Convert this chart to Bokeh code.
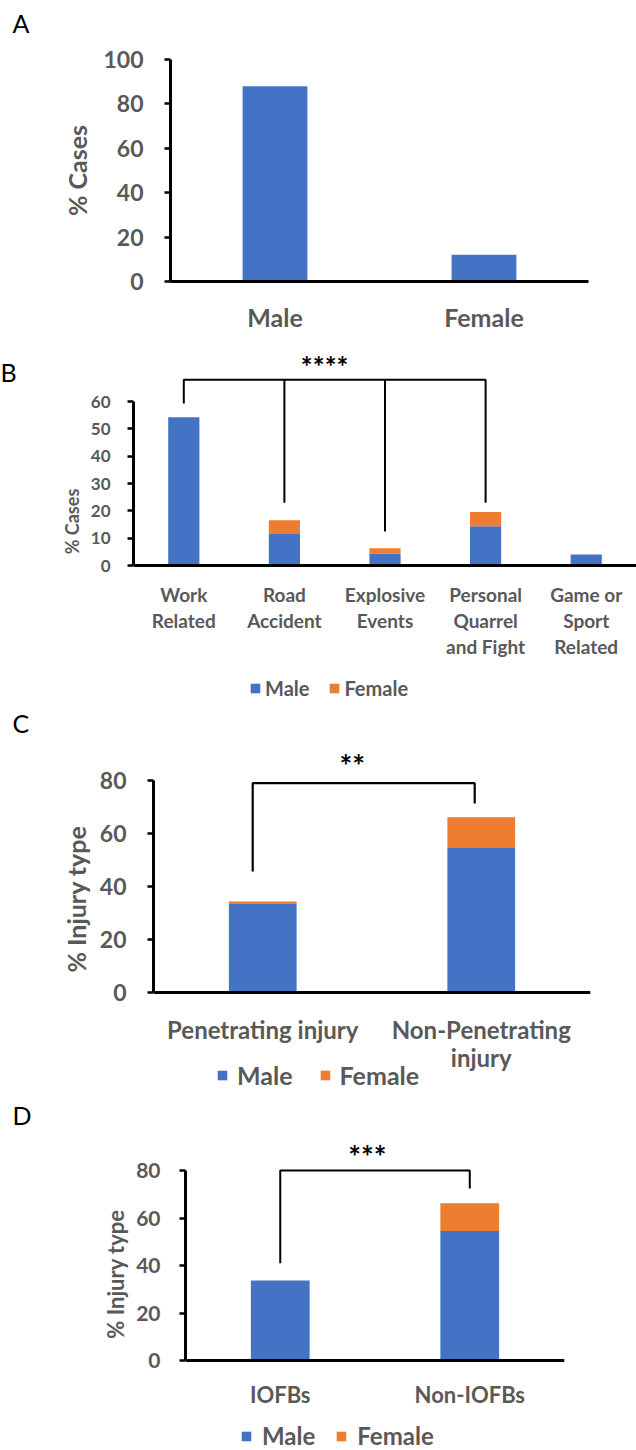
from bokeh.plotting import figure
from bokeh.layouts import column, row
from bokeh.models import (ColumnDataSource, FactorRange, Range1d, Label, Legend,
                          LegendItem, FixedTicker)
from bokeh.core.properties import value
from bokeh.embed import file_html
from bokeh.resources import INLINE

# ---- data -------------------------------------------------------------
gender_labels = ["Male", "Female"]
gender_pct = [88.0, 12.0]

cause_labels = ["Work Related", "Road Accident", "Explosive Events",
                "Personal Quarrel and Fight", "Game or Sport Related"]
cause_label_lines = [["Work", "Related"], ["Road", "Accident"], ["Explosive", "Events"],
                     ["Personal", "Quarrel", "and Fight"], ["Game or", "Sport", "Related"]]
cause_male = [54.2, 11.5, 4.4, 14.4, 4.0]
cause_female = [0.0, 5.1, 1.9, 5.2, 0.0]

injury_labels = ["Penetrating injury", "Non-Penetrating injury"]
injury_label_lines = [["Penetrating injury"], ["Non-Penetrating", "injury"]]
injury_male = [33.4, 54.8]
injury_female = [0.9, 11.3]

iofb_labels = ["IOFBs", "Non-IOFBs"]
iofb_label_lines = [["IOFBs"], ["Non-IOFBs"]]
iofb_male = [33.7, 54.5]
iofb_female = [0.0, 11.7]

series_names = ["Male", "Female"]
panel_letters = ["A", "B", "C", "D"]

# ---- style ------------------------------------------------------------
MALE_C = "#4472C4"
FEMALE_C = "#ED7D31"
GREY = "#595959"
FONT = "Lato"
BAR_W = 0.31
LETTER_W = 40          # strip on the left holding the panel letters
PAGE_H = 1450
PANEL_W = 636 - LETTER_W


def clean(p):
    p.xgrid.visible = False
    p.ygrid.visible = False
    p.outline_line_color = None
    p.background_fill_color = "white"
    p.border_fill_color = "white"


def y_axis(p, yticks, tick_size, tick_standoff, ylabel, ylabel_size, ylabel_standoff):
    ya = p.yaxis[0]
    ya.ticker = FixedTicker(ticks=yticks)
    ya.bounds = (yticks[0], yticks[-1])
    ya.axis_line_color = "black"
    ya.axis_line_width = 3
    ya.major_tick_line_color = "black"
    ya.major_tick_line_width = 2.5
    ya.major_tick_out = 6
    ya.major_tick_in = 0
    ya.minor_tick_out = 0
    ya.minor_tick_in = 0
    ya.major_label_text_font = FONT
    ya.major_label_text_font_style = "bold"
    ya.major_label_text_color = GREY
    ya.major_label_text_font_size = f"{tick_size}px"
    ya.major_label_standoff = tick_standoff
    ya.axis_label = ylabel
    ya.axis_label_text_font = FONT
    ya.axis_label_text_font_style = "bold"
    ya.axis_label_text_color = GREY
    ya.axis_label_text_font_size = f"{ylabel_size}px"
    ya.axis_label_standoff = ylabel_standoff


def x_axis(p):
    xa = p.xaxis[0]
    xa.axis_line_color = "black"
    xa.axis_line_width = 3
    xa.major_tick_out = 0
    xa.major_tick_in = 0
    xa.minor_tick_out = 0
    xa.minor_tick_in = 0
    return xa


def xpos(cats, name, offset=0.0):
    return cats.index(name) + 0.5 + offset


class Geo:
    """Pixel layout of one panel: frame edges and where 0 / top tick sit."""

    def __init__(self, left, right, top, bottom, height, zero_px, top_px, top_val):
        self.left, self.right, self.top, self.bottom = left, right, top, bottom
        self.height = height
        self.zero_px = zero_px
        self.k = (zero_px - top_px) / top_val

    def val(self, px):
        return (self.zero_px - px) / self.k

    def y_range(self):
        return Range1d(self.val(self.height - self.bottom), self.val(self.top))


def stacked_panel(cats, male, female, geo, ylabel, yticks, tick_size, tick_standoff,
                  ylabel_size, ylabel_standoff):
    fw = PANEL_W - geo.left - geo.right
    fh = geo.height - geo.top - geo.bottom
    p = figure(frame_width=fw, frame_height=fh,
               x_range=FactorRange(factors=cats, range_padding=0),
               y_range=geo.y_range(), output_backend="svg", toolbar_location=None,
               min_border_left=geo.left, min_border_right=geo.right,
               min_border_top=geo.top, min_border_bottom=geo.bottom)
    clean(p)
    src = ColumnDataSource(dict(cat=cats, Male=male, Female=female))
    rs = p.vbar_stack(series_names, x="cat", width=BAR_W, source=src,
                      fill_color=[MALE_C, FEMALE_C], line_color=None)
    y_axis(p, yticks, tick_size, tick_standoff, ylabel, ylabel_size, ylabel_standoff)
    xa = x_axis(p)
    xa.fixed_location = 0
    xa.major_label_text_color = None
    return p, rs


def category_text(p, geo, cats, lines, first_px, gap, size):
    xs, ys, ts = [], [], []
    for c, ls in zip(cats, lines):
        for i, t in enumerate(ls):
            xs.append(xpos(cats, c))
            ys.append(geo.val(first_px + i * gap))
            ts.append(t)
    p.text(x=xs, y=ys, text=ts, text_font=value(FONT), text_font_style="bold",
           text_font_size=f"{size}px", text_color=GREY,
           text_align="center", text_baseline="middle")


def add_legend(p, renderers, x, size, glyph, standoff, spacing):
    items = [LegendItem(label=n, renderers=[r]) for n, r in zip(series_names, renderers)]
    lg = Legend(items=items, location=(x, 0), orientation="horizontal",
                padding=0, margin=0, spacing=spacing, label_standoff=standoff,
                glyph_width=glyph, glyph_height=glyph,
                border_line_color=None, background_fill_alpha=0,
                label_text_font=FONT, label_text_font_style="bold",
                label_text_color=GREY, label_text_font_size=f"{size}px")
    p.add_layout(lg)


def stars(p, text, x, y, size):
    p.add_layout(Label(x=x, y=y, text=text, text_font=FONT, text_font_style="bold",
                       text_font_size=f"{size}px", text_color="black",
                       text_align="center", text_baseline="middle"))


# ---- panel letters strip ----------------------------------------------
letters = figure(width=LETTER_W, height=PAGE_H, x_range=Range1d(0, LETTER_W),
                 y_range=Range1d(PAGE_H, 0), x_axis_location=None, y_axis_location=None,
                 min_border=0, output_backend="svg", toolbar_location=None)
clean(letters)
letters.text(x=[12, 0, 12, 12], y=[22, 371, 722, 1114], text=panel_letters,
             text_font=value(FONT), text_font_size="25px", text_color="black",
             text_baseline="alphabetic")

# ---- A: cases by sex --------------------------------------------------
pa = figure(frame_width=418, frame_height=222,
            x_range=FactorRange(factors=gender_labels, range_padding=0),
            y_range=Range1d(0, 100), output_backend="svg", toolbar_location=None,
            min_border_left=130, min_border_right=48, min_border_top=59,
            min_border_bottom=59)
clean(pa)
src_a = ColumnDataSource(dict(cat=gender_labels, pct=gender_pct))
pa.vbar(x="cat", top="pct", width=BAR_W, source=src_a, fill_color=MALE_C, line_color=None)
y_axis(pa, [0, 20, 40, 60, 80, 100], 23, 21, "% Cases", 25, 8)
xa = x_axis(pa)
xa.major_label_text_font = FONT
xa.major_label_text_font_style = "bold"
xa.major_label_text_color = GREY
xa.major_label_text_font_size = "25px"
xa.major_label_standoff = 20

# ---- B: cause of injury -----------------------------------------------
gb = Geo(left=93, right=0, top=2, bottom=5, height=365, zero_px=225, top_px=61, top_val=60)
pb, rb = stacked_panel(cause_labels, cause_male, cause_female, gb, "% Cases",
                       [0, 10, 20, 30, 40, 50, 60], 17, 17, 18, 5)
category_text(pb, gb, cause_labels, cause_label_lines, 254, 26, 19)
b_top = 68
xw = xpos(cause_labels, "Work Related")
xr = xpos(cause_labels, "Road Accident")
xe = xpos(cause_labels, "Explosive Events")
xq = xpos(cause_labels, "Personal Quarrel and Fight")
pb.multi_line(xs=[[xw, xw, xq, xq], [xr, xr], [xe, xe]],
              ys=[[59.3, b_top, b_top, 23.0], [b_top, 23.0], [b_top, 12.4]],
              line_color="black", line_width=2)
stars(pb, "****", xr + 0.4, gb.val(25.5), 28)
add_legend(pb, rb, 116, 20, 12, 4, 19)

# ---- C: penetrating vs non-penetrating --------------------------------
gc = Geo(left=113, right=46, top=2, bottom=5, height=390, zero_px=287, top_px=75, top_val=80)
pc, rc = stacked_panel(injury_labels, injury_male, injury_female, gc, "% Injury type",
                       [0, 20, 40, 60, 80], 23, 21, 25, 6)
category_text(pc, gc, injury_labels, injury_label_lines, 324, 28, 24)
c_top = 79
xp = xpos(injury_labels, "Penetrating injury", -0.046)
xn = xpos(injury_labels, "Non-Penetrating injury", -0.03)
pc.line(x=[xp, xp, xn, xn], y=[45.7, c_top, c_top, 71.3], line_color="black", line_width=2.2)
stars(pc, "**", xpos(injury_labels, "Penetrating injury", 0.41), gc.val(59.5), 30)
add_legend(pc, rc, 63, 25, 12, 9, 26)

# ---- D: IOFBs vs non-IOFBs --------------------------------------------
gd = Geo(left=145, right=72, top=2, bottom=0, height=355, zero_px=265, top_px=75, top_val=80)
pd_, rd = stacked_panel(iofb_labels, iofb_male, iofb_female, gd, "% Injury type",
                        [0, 20, 40, 60, 80], 21, 19, 22, 4)
category_text(pd_, gd, iofb_labels, iofb_label_lines, 299, 28, 22)
d_top = 80
xi = xpos(iofb_labels, "IOFBs")
xni = xpos(iofb_labels, "Non-IOFBs")
pd_.line(x=[xi, xi, xni, xni], y=[41.0, d_top, d_top, 72.4], line_color="black", line_width=2)
stars(pd_, "***", xpos(iofb_labels, "IOFBs", 0.46), gd.val(60), 30)
add_legend(pd_, rd, 55, 24, 12, 10, 20)

# each panel sits in its own column so their frames keep their own left edges
panels = column(column(pa), column(pb), column(pc), column(pd_), spacing=0)
layout = row(letters, panels, spacing=0)
open("out.html", "w").write(file_html(layout, INLINE))
